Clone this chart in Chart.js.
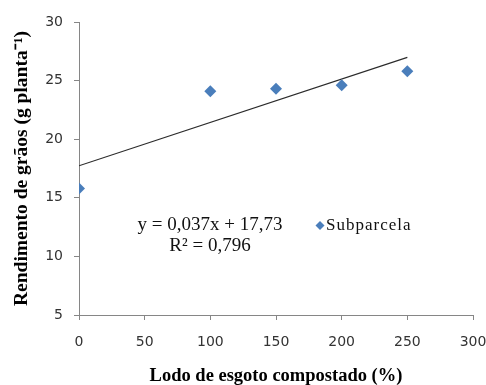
<!DOCTYPE html>
<html>
<head>
<meta charset="utf-8">
<script src="https://cdn.jsdelivr.net/npm/chart.js@4"></script>
<style>
  body { margin: 0; background: #fff; }
  canvas { display: block; }
</style>
</head>
<body>
<canvas id="chart" width="486" height="385"></canvas>
<script>
// data
const doses = [0, 100, 150, 200, 250];
const rendimento = [15.8, 24.1, 24.3, 24.6, 25.8];
const trendX = [0, 250];
const trendY = [17.73, 26.98];
const equationLines = ['y = 0,037x + 17,73', 'R\u00b2 = 0,796'];
const seriesName = 'Subparcela';

const pointColor = '#4a7ebb';
const axisColor = '#868686';

// equation + legend drawn inside the plot, like the original
const notesPlugin = {
    id: 'notes',
    afterDraw(chart) {
        const ctx = chart.ctx;
        ctx.save();
        ctx.fillStyle = '#111';
        ctx.font = '19px "Liberation Serif", serif';
        ctx.textAlign = 'center';
        ctx.textBaseline = 'middle';
        ctx.fillText(equationLines[0], 210, 225);
        ctx.fillText(equationLines[1], 210, 246);

        // legend marker
        ctx.fillStyle = pointColor;
        ctx.beginPath();
        ctx.moveTo(320, 221);
        ctx.lineTo(324.5, 225.5);
        ctx.lineTo(320, 230);
        ctx.lineTo(315.5, 225.5);
        ctx.closePath();
        ctx.fill();

        ctx.fillStyle = '#111';
        ctx.textAlign = 'left';
        ctx.font = '17px "Liberation Serif", serif';
        ctx.letterSpacing = '1px';
        ctx.fillText(seriesName, 326, 226);
        ctx.restore();
    }
};

new Chart(document.getElementById('chart').getContext('2d'), {
    type: 'scatter',
    data: {
        datasets: [
            {
                label: seriesName,
                data: doses.map((d, i) => ({ x: d, y: rendimento[i] })),
                pointStyle: 'rectRot',
                pointRadius: 6,
                backgroundColor: pointColor,
                borderColor: pointColor,
                borderWidth: 0,
                showLine: false,
                order: 1
            },
            {
                label: 'Linear',
                data: trendX.map((d, i) => ({ x: d, y: trendY[i] })),
                showLine: true,
                pointRadius: 0,
                borderColor: '#2b2b2b',
                borderWidth: 1.2,
                order: 2
            }
        ]
    },
    options: {
        responsive: false,
        animation: false,
        layout: { padding: { top: 22, right: 0, left: 0, bottom: 0 } },
        plugins: {
            legend: { display: false },
            tooltip: { enabled: false }
        },
        scales: {
            x: {
                type: 'linear',
                min: 0,
                max: 300,
                afterFit: s => { s.height = 70; s.paddingRight = 13; },
                ticks: {
                    stepSize: 50,
                    padding: 14,
                    color: '#333',
                    font: { family: 'DejaVu Sans', size: 14 }
                },
                grid: { drawOnChartArea: false, tickLength: 5, color: axisColor },
                border: { color: axisColor },
                title: {
                    display: true,
                    text: 'Lodo de esgoto compostado (%)',
                    color: '#000',
                    padding: 0,
                    font: { family: 'Liberation Serif', size: 18.5, weight: 'bold', lineHeight: 1 }
                }
            },
            y: {
                min: 5,
                max: 30,
                afterFit: s => { s.width = 79; },
                ticks: {
                    stepSize: 5,
                    padding: 11,
                    color: '#333',
                    font: { family: 'DejaVu Sans', size: 14 }
                },
                grid: { drawOnChartArea: false, tickLength: 5, color: axisColor },
                border: { color: axisColor },
                title: {
                    display: true,
                    text: 'Rendimento de grãos (g planta\u207b\u00b9)',
                    color: '#000',
                    padding: { top: 10, bottom: 0 },
                    font: { family: 'Liberation Serif', size: 19.5, weight: 'bold' }
                }
            }
        }
    },
    plugins: [notesPlugin]
});
</script>
</body>
</html>
